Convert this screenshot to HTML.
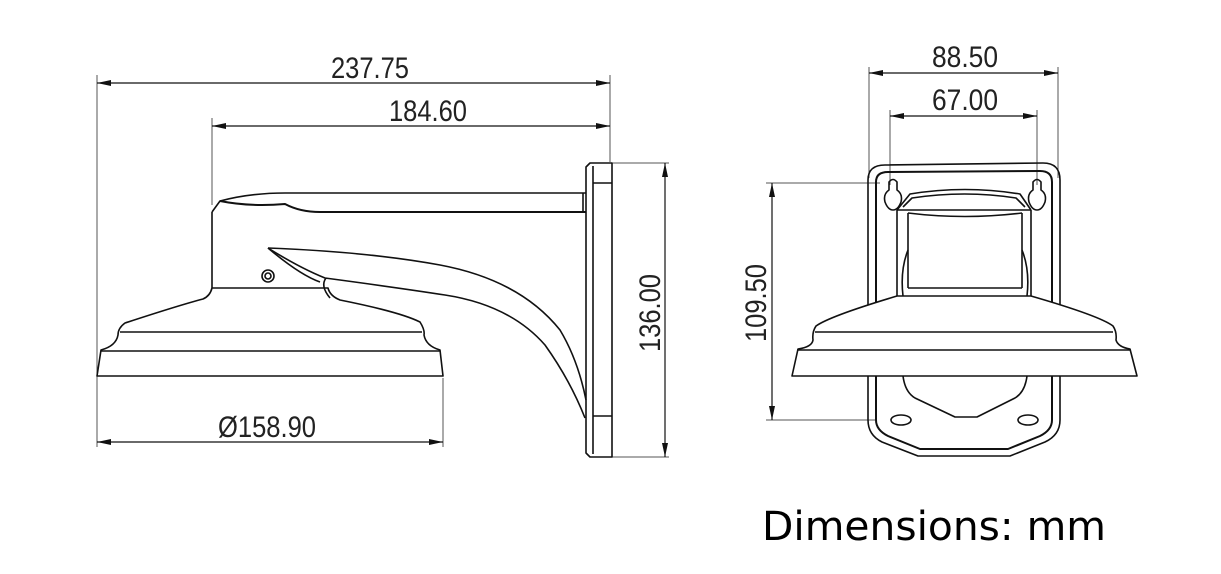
<!DOCTYPE html>
<html><head><meta charset="utf-8"><style>
html,body{margin:0;padding:0;background:#fff;}
svg{display:block;}
</style></head><body>
<svg width="1221" height="574" viewBox="0 0 1221 574" xmlns="http://www.w3.org/2000/svg">
<defs>
<marker id="a" viewBox="0 0 14 6" refX="14" refY="3" markerWidth="14" markerHeight="6" orient="auto-start-reverse" markerUnits="userSpaceOnUse"><path d="M0,0 L14,3 L0,6 z" fill="#111"/></marker>
</defs>
<g font-family="Liberation Sans, sans-serif" font-size="30" fill="#222">
<text x="331" y="78" textLength="78" lengthAdjust="spacingAndGlyphs">237.75</text>
<text x="389" y="121" textLength="78" lengthAdjust="spacingAndGlyphs">184.60</text>
<text x="218" y="437" textLength="98" lengthAdjust="spacingAndGlyphs">Ø158.90</text>
<text transform="translate(660,352) rotate(-90)" textLength="78" lengthAdjust="spacingAndGlyphs">136.00</text>
<text x="932" y="67" textLength="66" lengthAdjust="spacingAndGlyphs">88.50</text>
<text x="932" y="110" textLength="66" lengthAdjust="spacingAndGlyphs">67.00</text>
<text transform="translate(766,342) rotate(-90)" textLength="78" lengthAdjust="spacingAndGlyphs">109.50</text>
</g>
<text x="762" y="540" font-family="DejaVu Sans, Liberation Sans, sans-serif" font-size="40" fill="#000" textLength="344" lengthAdjust="spacingAndGlyphs">Dimensions: mm</text>

<g stroke="#555" stroke-width="1" fill="none">
<line x1="97" y1="75" x2="97" y2="447"/>
<line x1="610" y1="75" x2="610" y2="162"/>
<line x1="212" y1="118" x2="212" y2="205"/>
<line x1="443" y1="378" x2="443" y2="447"/>
<line x1="612" y1="163" x2="669" y2="163"/>
<line x1="612" y1="457" x2="669" y2="457"/>
<line x1="869" y1="67" x2="869" y2="178"/>
<line x1="1058" y1="67" x2="1058" y2="178"/>
<line x1="890" y1="110" x2="890" y2="185"/>
<line x1="1037" y1="110" x2="1037" y2="185"/>
<line x1="766" y1="183" x2="880" y2="183"/>
<line x1="766" y1="420" x2="875" y2="420"/>
</g>
<g stroke="#111" stroke-width="1.2" fill="none">
<line x1="97" y1="83" x2="610" y2="83" marker-start="url(#a)" marker-end="url(#a)"/>
<line x1="212" y1="126" x2="610" y2="126" marker-start="url(#a)" marker-end="url(#a)"/>
<line x1="97" y1="442" x2="443" y2="442" marker-start="url(#a)" marker-end="url(#a)"/>
<line x1="665" y1="163" x2="665" y2="457" marker-start="url(#a)" marker-end="url(#a)"/>
<line x1="869" y1="73" x2="1058" y2="73" marker-start="url(#a)" marker-end="url(#a)"/>
<line x1="890" y1="116" x2="1037" y2="116" marker-start="url(#a)" marker-end="url(#a)"/>
<line x1="772" y1="183" x2="772" y2="420" marker-start="url(#a)" marker-end="url(#a)"/>
</g>

<!-- LEFT VIEW -->
<g stroke="#111" stroke-width="1.6" fill="none" stroke-linejoin="round">
<path d="M590,163 L612,163 L612,457 L590,457 L586,453 L586,167 Z"/>
<line x1="593" y1="166" x2="593" y2="454"/>
<line x1="593" y1="183" x2="612" y2="183"/>
<line x1="593" y1="416" x2="612" y2="416"/>
<path d="M212,212 L220,201 Q250,193 285,193 L586,193"/>
<path d="M220,201 Q250,207 285,204 Q300,212 320,212 L586,212" stroke-width="2"/>
<line x1="583" y1="193" x2="583" y2="212"/>
<path d="M212,212 L212,288"/>
<path d="M212,288 L328,288 Q330,296 340,300 Q400,312 420,322 Q425,330 424,335 Q426,346 440,350 L443,376 L97,376 L101,350 Q116,346 118,335 Q118,328 125,323 Q180,305 203,299 Q210,296 212,288"/>
<line x1="120" y1="332" x2="422" y2="332"/>
<line x1="101" y1="351" x2="440" y2="351"/>
<path d="M268,248 Q370,252 440,265 Q520,280 560,330 Q578,360 586,400"/>
<path d="M268,248 Q300,268 325,278 Q400,288 445,295 Q510,305 545,345 Q570,380 585,418"/>
<path d="M268,248 Q300,275 320,282"/>
<path d="M326,278 Q320,286 330,298"/>
<circle cx="268" cy="276" r="6"/>
<circle cx="268" cy="276" r="3"/>
</g>

<!-- RIGHT VIEW -->
<g stroke="#111" stroke-width="1.6" fill="none" stroke-linejoin="round">
<path d="M868,420 L868,180 Q868,165 885,165 L1043,163 Q1060,163 1060,180 L1060,420 Q1060,435 1045,442 L1010,456 L918,456 L882,442 Q868,435 868,420 Z"/>
<path d="M876,420 L876,182 Q876,172 888,172 L1040,171 Q1052,171 1052,182 L1052,420 Q1052,430 1040,436 L1008,449 L920,449 L888,436 Q876,430 876,420 Z" stroke-width="2"/>
<path d="M889,182 Q893,177 897,182 L897,190 Q903,194 901,202 Q898,210 893,210 Q888,210 885,202 Q883,194 889,190 Z"/>
<path d="M1033,182 Q1037,177 1041,182 L1041,190 Q1047,194 1045,202 Q1042,210 1037,210 Q1032,210 1029,202 Q1027,194 1033,190 Z"/>
<path d="M897,210 L910,194 Q965,185 1020,194 L1031,210"/>
<path d="M903,207 L912,198 Q965,190 1016,198 L1025,207"/>
<path d="M908,213 Q965,220 1022,213"/>
<line x1="897" y1="210" x2="1031" y2="210"/>
<line x1="897" y1="210" x2="897" y2="296"/>
<line x1="1031" y1="210" x2="1031" y2="296"/>
<line x1="908" y1="213" x2="908" y2="288"/>
<line x1="1022" y1="213" x2="1022" y2="288"/>
<line x1="908" y1="288" x2="1022" y2="288"/>
<path d="M908,250 Q900,270 903,296"/>
<path d="M1022,250 Q1030,270 1027,296"/>
<path fill="#fff" d="M897,296 L1031,296 Q1100,316 1113,326 Q1117,332 1116,340 Q1118,347 1130,349 L1137,376 L792,376 L798,349 Q812,347 813,340 Q812,332 816,326 Q830,316 897,296 Z"/>
<line x1="815" y1="332" x2="1113" y2="332"/>
<line x1="797" y1="350" x2="1131" y2="350"/>
<path d="M903,376 Q905,392 915,398 L955,417 L977,417 L1015,398 Q1025,392 1027,376"/>
<ellipse cx="901" cy="420" rx="10" ry="5"/>
<ellipse cx="1028" cy="420" rx="10" ry="5"/>
</g>
</svg>
</body></html>
